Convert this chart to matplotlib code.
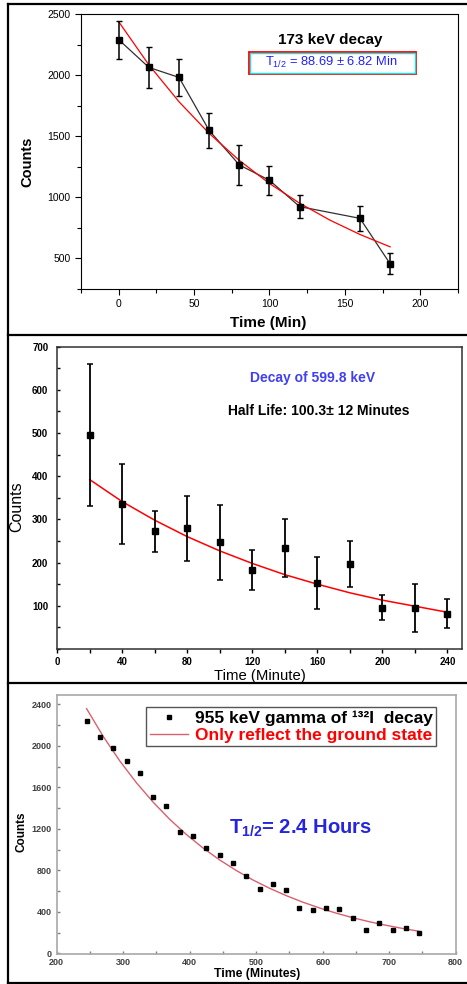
import matplotlib
matplotlib.use("Agg")
import matplotlib.pyplot as plt
from matplotlib.lines import Line2D
from matplotlib.patches import Rectangle
from matplotlib.ticker import MultipleLocator

plt.rcParams['font.family'] = ['Liberation Sans', 'DejaVu Sans']
plt.rcParams['mathtext.fontset'] = 'custom'
plt.rcParams['mathtext.rm'] = 'Liberation Sans'
plt.rcParams['mathtext.it'] = 'Liberation Sans:italic'
plt.rcParams['mathtext.bf'] = 'Liberation Sans:bold'

# --- data: 173 keV decay
t1 = [0, 20, 40, 60, 80, 100, 120, 160, 180]
counts1 = [2290, 2063, 1981, 1547, 1265, 1139, 924, 828, 456]
err1 = [155, 165, 150, 145, 165, 118, 92, 100, 85]
fit_t1 = [0, 20, 40, 60, 80, 100, 120, 140, 160, 180]
fit_c1 = [2437, 2084, 1782, 1523, 1302, 1113, 952, 814, 696, 595]

# --- data: 599.8 keV decay
t2 = [20, 40, 60, 80, 100, 120, 140, 160, 180, 200, 220, 240]
counts2 = [495, 336, 272, 279, 247, 183, 233, 152, 197, 95, 95, 82]
err2 = [165, 92, 48, 76, 87, 46, 67, 60, 54, 29, 55, 33]
fit_c2 = [392, 341, 298, 260, 227, 198, 172, 150, 130, 113, 99, 85]

# --- data: 955 keV gamma of 132I
t3 = [245, 265, 285, 305, 325, 345, 365, 385, 405, 425, 445, 465, 485,
      505, 525, 545, 565, 585, 605, 625, 645, 665, 685, 705, 725, 745]
counts3 = [2240, 2089, 1980, 1858, 1739, 1511, 1421, 1168, 1126, 1011, 943, 873, 741,
           616, 667, 610, 440, 414, 440, 427, 343, 228, 289, 225, 241, 193]
fit_t3 = [245, 270, 295, 320, 345, 370, 395, 420, 445, 470, 495,
          520, 545, 570, 595, 620, 645, 670, 695, 720, 745]
fit_c3 = [2358, 2090, 1853, 1643, 1457, 1291, 1145, 1015, 900, 798, 707,
          627, 556, 493, 437, 387, 343, 304, 270, 239, 212]

fig = plt.figure(figsize=(4.67, 9.84), dpi=100)

# ---------------- panel 1
ax1 = fig.add_axes([0.1734, 0.7063, 0.8073, 0.2795])
ax1.plot(t1, counts1, color='#303030', lw=0.9, zorder=2)
ax1.plot(fit_t1, fit_c1, color='red', lw=0.9, zorder=2.5)
ax1.errorbar(t1, counts1, yerr=err1, fmt='s', color='black', ms=4,
             capsize=2.5, elinewidth=1.1, capthick=1.0, zorder=3)
ax1.set_xlim(-25, 225)
ax1.set_ylim(250, 2500)
ax1.xaxis.set_major_locator(MultipleLocator(50))
ax1.xaxis.set_minor_locator(MultipleLocator(25))
ax1.yaxis.set_major_locator(MultipleLocator(500))
ax1.yaxis.set_minor_locator(MultipleLocator(250))
ax1.tick_params(which='both', direction='out', labelsize=7.5, pad=3)
ax1.tick_params(which='major', length=4.5, width=0.8)
ax1.tick_params(which='minor', length=2.8, width=0.8)
for s in ax1.spines.values():
    s.set_linewidth(0.8)
ax1.set_ylabel('Counts', fontsize=10.5, fontweight='bold')
ax1.yaxis.set_label_coords(-0.123, 0.463)
ax1.set_xlabel('Time (Min)', fontsize=11, fontweight='bold')
ax1.xaxis.set_label_coords(0.496, -0.098)
ax1.text(0.662, 0.89, '173 keV decay', transform=ax1.transAxes, ha='center',
         va='baseline', fontsize=11, fontweight='bold')
ax1.add_patch(Rectangle((0.446, 0.782), 0.443, 0.081, transform=ax1.transAxes,
                        fill=False, edgecolor='red', lw=1.3, zorder=4))
ax1.add_patch(Rectangle((0.449, 0.787), 0.437, 0.071, transform=ax1.transAxes,
                        fill=False, edgecolor='#20e0e0', lw=1.0, zorder=4))
ax1.text(0.6626, 0.812, r'T$_{1/2}$ = 88.69 ± 6.82 Min', transform=ax1.transAxes,
         ha='center', va='baseline', fontsize=9.3, color='#2020ff')

# ---------------- panel 2
ax2 = fig.add_axes([0.1227, 0.3405, 0.8666, 0.3072])
ax2.plot(t2, fit_c2, color='red', lw=1.1, zorder=2)
ax2.errorbar(t2, counts2, yerr=err2, fmt='s', color='black', ms=4.3,
             capsize=2.5, elinewidth=1.3, capthick=1.1, zorder=3)
ax2.set_xlim(0, 249)
ax2.set_ylim(0, 700)
ax2.set_xticks([0, 40, 80, 120, 160, 200, 240])
ax2.xaxis.set_minor_locator(MultipleLocator(20))
ax2.set_yticks([100, 200, 300, 400, 500, 600, 700])
ax2.yaxis.set_minor_locator(MultipleLocator(50))
ax2.tick_params(axis='x', which='both', direction='out', length=3, width=1.0,
                labelsize=7, pad=3)
ax2.tick_params(axis='y', which='both', direction='in', length=2.5, width=1.0,
                labelsize=7, pad=6.5)
for lab in ax2.get_xticklabels() + ax2.get_yticklabels():
    lab.set_fontweight('bold')
for s in ax2.spines.values():
    s.set_linewidth(1.1)
    s.set_color('#303030')
ax2.set_ylabel('Counts', fontsize=11.5)
ax2.yaxis.set_label_coords(-0.082, 0.47)
ax2.set_xlabel('Time (Minute)', fontsize=10.7)
ax2.xaxis.set_label_coords(0.5, -0.065)
ax2.text(0.6306, 0.8975, 'Decay of 599.8 keV', transform=ax2.transAxes,
         ha='center', va='center', fontsize=10, fontweight='bold', color='#4040f0')
ax2.text(0.6459, 0.7883, 'Half Life: 100.3± 12 Minutes', transform=ax2.transAxes,
         ha='center', va='center', fontsize=10, fontweight='bold', color='black')

# ---------------- panel 3
ax3 = fig.add_axes([0.1214, 0.0302, 0.8544, 0.2635])
ax3.plot(fit_t3, fit_c3, color='#d86070', lw=1.0, zorder=2,
         label='Only reflect the ground state')
ax3.plot(t3, counts3, 's', color='black', ms=3.4, zorder=3,
         label='955 keV gamma of ¹³²I  decay')
ax3.set_xlim(200, 800)
ax3.set_ylim(-10, 2490)
ax3.xaxis.set_major_locator(MultipleLocator(100))
ax3.xaxis.set_minor_locator(MultipleLocator(50))
ax3.set_yticks([0, 400, 800, 1200, 1600, 2000, 2400])
ax3.yaxis.set_minor_locator(MultipleLocator(200))
ax3.tick_params(which='both', direction='in', length=2.5, width=1.0,
                color='#808080', labelsize=6.5, labelcolor='#404040')
ax3.tick_params(axis='y', pad=3.6)
ax3.tick_params(axis='x', pad=2.8)
for lab in ax3.get_xticklabels() + ax3.get_yticklabels():
    lab.set_fontweight('bold')
for s in ax3.spines.values():
    s.set_linewidth(1.2)
    s.set_color('#a8a8a8')
ax3.set_ylabel('Counts', fontsize=8.5, fontweight='bold')
ax3.yaxis.set_label_coords(-0.072, 0.473)
ax3.set_xlabel('Time (Minutes)', fontsize=8.8, fontweight='bold')
ax3.xaxis.set_label_coords(0.5015, -0.054)
handles, labels = ax3.get_legend_handles_labels()
leg = ax3.legend(handles[::-1], labels[::-1], loc='upper right',
                 bbox_to_anchor=(0.951, 0.953), borderaxespad=0, fancybox=False,
                 edgecolor='#555555', framealpha=1, handlelength=2.2,
                 handletextpad=0.4, labelspacing=0.1, borderpad=0.2,
                 prop={'size': 12.5, 'weight': 'bold'})
leg.get_frame().set_linewidth(1.0)
leg.get_texts()[1].set_color('red')
ax3.text(0.61, 0.4666, r'T$_{\mathbf{1/2}}$= 2.4 Hours', transform=ax3.transAxes,
         ha='center', va='baseline', fontsize=14.5, fontweight='bold', color='#2525e0')

# panel frame lines
for y in [0.99644, 0.66006, 0.3064, 0.00132]:
    fig.add_artist(Line2D([0.0178, 1.0], [y, y], color='black', lw=1.6))
fig.add_artist(Line2D([0.0178, 0.0178], [0.00132, 0.99644], color='black', lw=1.6))

fig.savefig('out.png', dpi=100)
